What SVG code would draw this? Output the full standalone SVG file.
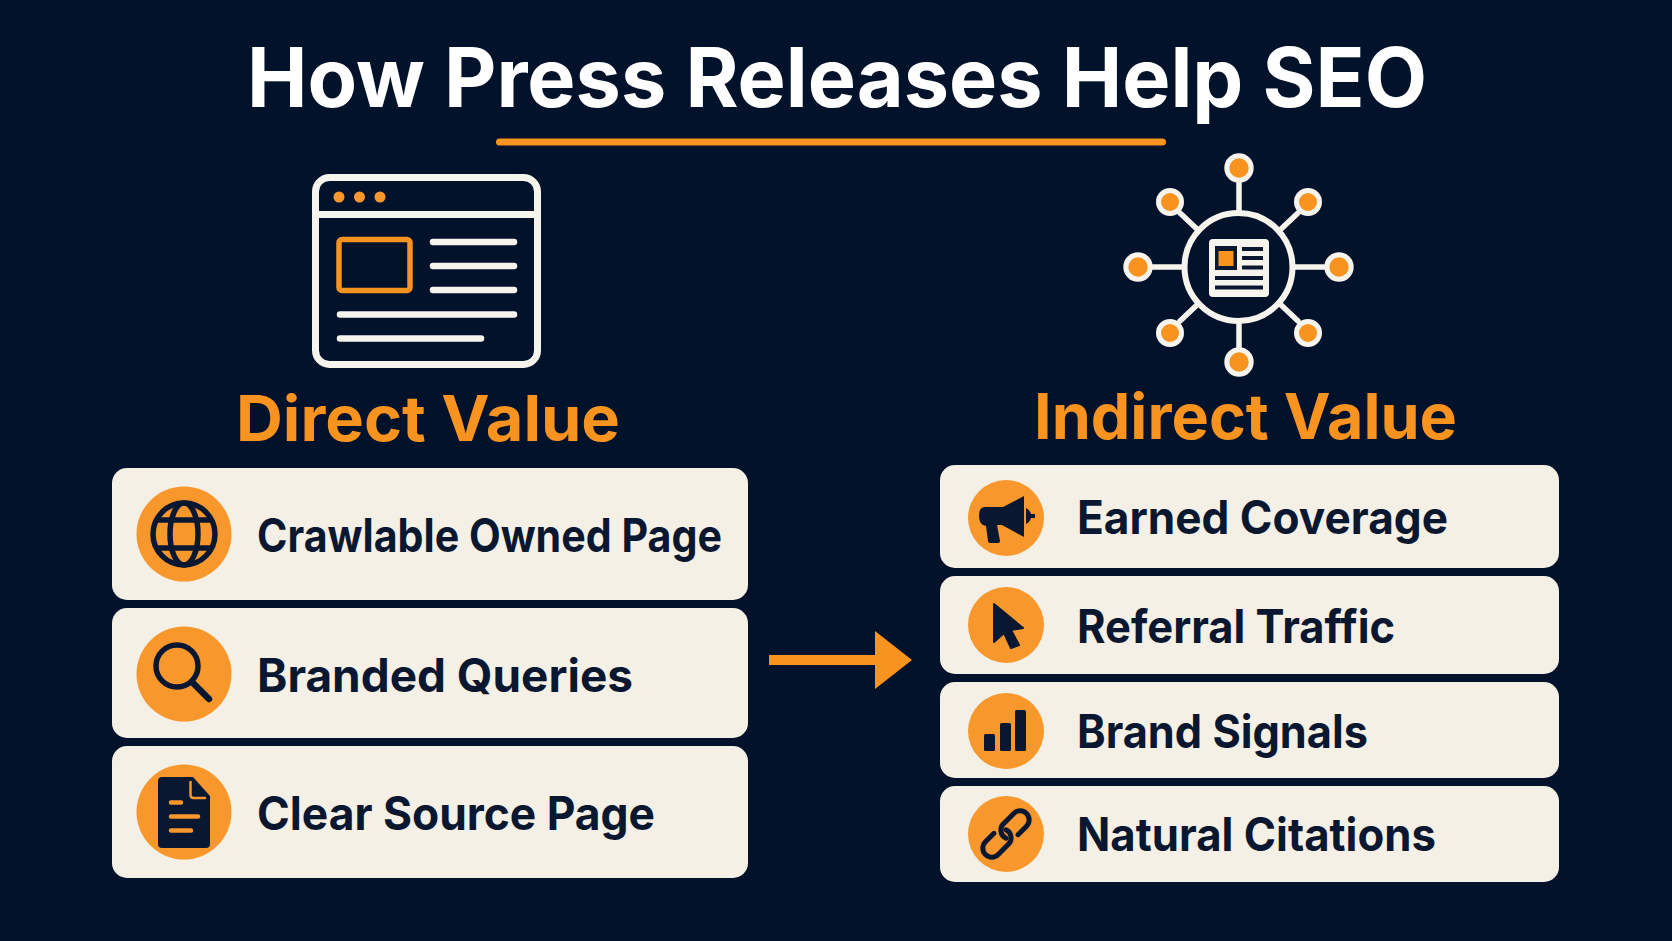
<svg xmlns="http://www.w3.org/2000/svg" width="1672" height="941" viewBox="0 0 1672 941">
<style>
text{font-family:Inter,"Liberation Sans",sans-serif}
.title{font-size:82px;font-weight:700;fill:#fff}
.head{font-size:63px;font-weight:700;fill:#f7931e}
.lbl{font-size:46px;font-weight:700;fill:#0a1730}
.card{fill:#f5f0e6}
.dot{fill:#f8982c}
.w{fill:none;stroke:#f7f4ee;stroke-width:7;stroke-linecap:round}
.ink{fill:none;stroke:#0a1730;stroke-linecap:round;stroke-linejoin:round}
.solid{fill:#0a1730}
.o{fill:none;stroke:#f8982c;stroke-linecap:round}
.sat{fill:#f7931e;stroke:#f7f4ee;stroke-width:5}
</style>
<rect width="1672" height="941" fill="#02122b"/>
<g id="title"><text class="title" x="247" y="107" textLength="1180" lengthAdjust="spacingAndGlyphs">How Press Releases Help SEO</text>
<rect x="496" y="138.500" width="670" height="7" rx="3.500" fill="#f7931e"/></g>

<g id="browser-icon">
<rect class="w" x="315.500" y="177.500" width="222" height="187" rx="14"/>
<path class="w" d="M316 214.500H537"/>
<circle class="dot" cx="339" cy="197" r="5.500"/><circle class="dot" cx="359.500" cy="197" r="5.500"/><circle class="dot" cx="380" cy="197" r="5.500"/>
<rect x="339" y="239.500" width="71" height="51" rx="3" fill="none" stroke="#f7931e" stroke-width="5.500"/>
<path class="w" style="stroke-width:6.500" d="M433 242H514M433 266H514M433 290H514M340 314.500H514M340 338.500H481"/>
</g>

<g id="network-icon">
<path class="w" style="stroke-width:5.500" d="M1239 183V212M1239 322V347M1183 267H1153M1293 267H1324M1180 213L1198 230M1298 213L1280 230M1180 321L1198 304M1298 321L1280 304"/>
<circle cx="1238.500" cy="267" r="54" fill="none" stroke="#f7f4ee" stroke-width="6"/>
<circle class="sat" cx="1239" cy="168" r="12.200"/><circle class="sat" cx="1239" cy="362" r="12.200"/>
<circle class="sat" cx="1138" cy="267" r="12.200"/><circle class="sat" cx="1339" cy="267" r="12.200"/>
<circle class="sat" cx="1170" cy="202" r="11.500"/><circle class="sat" cx="1308" cy="202" r="11.500"/>
<circle class="sat" cx="1170" cy="333" r="11.500"/><circle class="sat" cx="1308" cy="333" r="11.500"/>
<rect x="1209" y="239" width="60" height="58" rx="4" fill="#f7f4ee"/>
<rect x="1215" y="246" width="22" height="24" fill="#0a1730"/><rect x="1218.500" y="251" width="15" height="15" fill="#f7931e"/>
<path stroke="#0a1730" stroke-width="4" d="M1242 249H1263M1242 258H1263M1242 267.500H1263M1215 278H1263M1215 287.500H1263"/>
</g>

<g id="direct-heading"><text class="head" x="236" y="441" textLength="384" lengthAdjust="spacingAndGlyphs">Direct Value</text></g>
<g id="indirect-heading"><text class="head" x="1034" y="439" textLength="423" lengthAdjust="spacingAndGlyphs">Indirect Value</text></g>

<g id="connectors">
<path d="M769 655h106v-24l37 29-37 29v-24H769z" fill="#f7931e"/></g>

<g id="card-crawlable"><rect class="card" x="112" y="468" width="636" height="132" rx="15"/>
<circle class="dot" cx="184" cy="534" r="47.500"/>
<g class="ink" stroke-width="5.500"><circle cx="184" cy="534" r="31"/><ellipse cx="184" cy="534" rx="14" ry="31"/><path d="M158 520H210M158 548H210"/></g>
<text class="lbl" x="257" y="552" textLength="465" lengthAdjust="spacingAndGlyphs">Crawlable Owned Page</text></g>

<g id="card-branded"><rect class="card" x="112" y="608" width="636" height="130" rx="15"/>
<circle class="dot" cx="184" cy="674" r="47.500"/>
<g class="ink" stroke-width="5.500"><circle cx="177" cy="666" r="21"/><path stroke-width="6.500" d="M192 682L209 699"/></g>
<text class="lbl" x="257" y="692" textLength="376" lengthAdjust="spacingAndGlyphs">Branded Queries</text></g>

<g id="card-clear"><rect class="card" x="112" y="746" width="636" height="132" rx="15"/>
<circle class="dot" cx="184" cy="812" r="47.500"/>
<path class="solid" d="M158 781q0-4 4-4h31l17 19v48q0 4-4 4h-44q-4 0-4-4z"/>
<path class="o" stroke-width="2.500" d="M190.500 782V795q0 3 3 3H205"/>
<path class="o" stroke-width="4.500" d="M171 802.500H181M171 816.500H198M171 830.500H191"/>
<text class="lbl" x="257" y="830" textLength="398" lengthAdjust="spacingAndGlyphs">Clear Source Page</text></g>

<g id="card-earned"><rect class="card" x="940" y="465" width="619" height="103" rx="15"/>
<circle class="dot" cx="1006" cy="518" r="38"/>
<path class="solid" d="M985 507H1003L1024 496V537L1002 525H997L1000 541Q1000 543 998 543H990Q988 543 988 541L986 526Q979 525 979 516 979 507 985 507z"/>
<path class="solid" d="M1026 508Q1030 510 1031 514H1035V518H1031Q1030 522 1026 524z"/>
<text class="lbl" x="1077" y="534" textLength="371" lengthAdjust="spacingAndGlyphs">Earned Coverage</text></g>

<g id="card-referral"><rect class="card" x="940" y="576" width="619" height="98" rx="15"/>
<circle class="dot" cx="1006" cy="625" r="38"/>
<path class="solid" d="M994 604L1023 628 1011 630 1019 645 1011 648 1004 633 994 642z" stroke="#0a1730" stroke-width="2" stroke-linejoin="round"/>
<text class="lbl" x="1077" y="643" textLength="318" lengthAdjust="spacingAndGlyphs">Referral Traffic</text></g>

<g id="card-brand"><rect class="card" x="940" y="682" width="619" height="96" rx="15"/>
<circle class="dot" cx="1006" cy="731" r="38"/>
<rect class="solid" x="984" y="734" width="11" height="17" rx="1.500"/><rect class="solid" x="1000" y="723" width="11" height="28" rx="1.500"/><rect class="solid" x="1015" y="710" width="11" height="41" rx="1.500"/>
<text class="lbl" x="1077" y="748" textLength="291" lengthAdjust="spacingAndGlyphs">Brand Signals</text></g>

<g id="card-natural"><rect class="card" x="940" y="786" width="619" height="96" rx="15"/>
<circle class="dot" cx="1006" cy="834" r="38"/>
<g class="ink" stroke-width="5" transform="translate(1006 834) rotate(-45)"><path d="M-3 3A9 9 0 0 1 6 -9H20A9 9 0 0 1 20 9H8"/><path d="M3 -3A9 9 0 0 1 -6 9H-20A9 9 0 0 1 -20 -9H-8"/></g>
<text class="lbl" x="1077" y="851" textLength="359" lengthAdjust="spacingAndGlyphs">Natural Citations</text></g>
</svg>
